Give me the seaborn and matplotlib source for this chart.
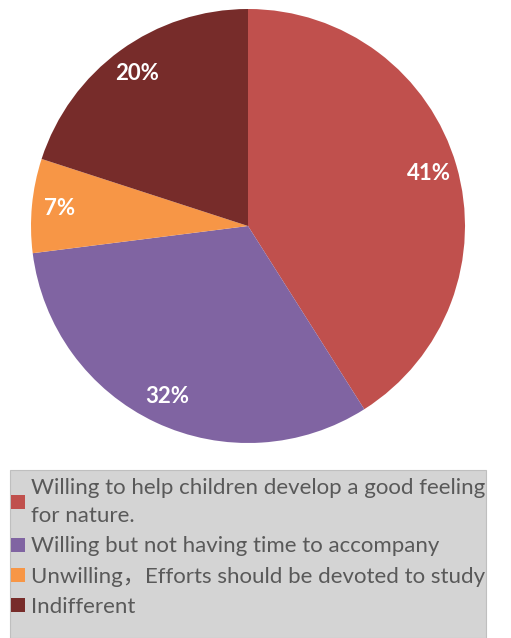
import matplotlib
matplotlib.use('Agg')
import matplotlib.pyplot as plt
from matplotlib.patches import Rectangle
import seaborn as sns

# Survey answers and their shares (%)
labels = [
    'Willing to help children develop a good feeling\nfor nature.',
    'Willing but not having time to accompany',
    'Unwilling\uff0cEfforts should be devoted to study',
    'Indifferent',
]
shares = [41, 32, 7, 20]
colors = ['#C0504D', '#8064A2', '#F79646', '#772C2A']

sns.set_theme(style='white')
plt.rcParams['font.family'] = ['Lato', 'Noto Sans CJK SC', 'DejaVu Sans']

fig = plt.figure(figsize=(5.11, 6.38), dpi=100)

# gray legend panel at the bottom
fig.patches.append(Rectangle((10 / 511, 0), 476 / 511, 168 / 638, transform=fig.transFigure,
                             facecolor='#D4D4D4', edgecolor='#BFBFBF', linewidth=0.8, zorder=0))

ax = fig.add_axes([31 / 511, 1 - 443 / 638, 434 / 511, 434 / 638])
wedges, texts, autotexts = ax.pie(
    shares, colors=colors, startangle=90, counterclock=False,
    autopct='%1.0f%%', pctdistance=0.87, radius=1,
    wedgeprops={'linewidth': 0},
    textprops={'color': 'white', 'fontsize': 16, 'fontweight': 'bold'},
)
ax.set_xlim(-1, 1)
ax.set_ylim(-1, 1)
ax.set_aspect('equal')
ax.axis('off')

leg = fig.legend(wedges, labels, loc='upper left', bbox_to_anchor=(9 / 511, 1 - 476 / 638),
                 frameon=False, fontsize=16, labelcolor='#595959',
                 handlelength=0.6, handleheight=0.6, handletextpad=0.3,
                 labelspacing=0.46, borderaxespad=0, borderpad=0.1)
for t in leg.get_texts():
    t.set_linespacing(1.5)

fig.savefig('out.png', dpi=100)
